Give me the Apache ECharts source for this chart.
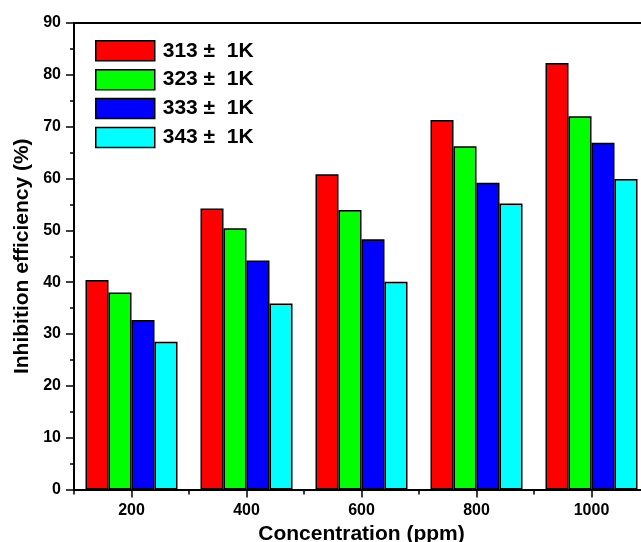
<!DOCTYPE html>
<html>
<head>
<meta charset="utf-8">
<script src="https://cdn.jsdelivr.net/npm/echarts@6/dist/echarts.min.js"></script>
<style>html,body{margin:0;padding:0;background:#fff;}#c{width:641px;height:542px;}</style>
</head>
<body>
<div id="c"></div>
<script>
var categories = ['200', '400', '600', '800', '1000'];
var seriesNames = ['313 \u00b1  1K', '323 \u00b1  1K', '333 \u00b1  1K', '343 \u00b1  1K'];
var s313 = [40.4, 54.2, 60.8, 71.3, 82.3];
var s323 = [38.0, 50.4, 53.9, 66.2, 72.0];
var s333 = [32.7, 44.2, 48.3, 59.2, 66.9];
var s343 = [28.5, 35.9, 40.1, 55.2, 59.9];
var colors = ['#FF0000', '#00FF00', '#0000FF', '#00FFFF'];
var FONT = 'Arial, "Liberation Sans", sans-serif';

var chart = echarts.init(document.getElementById('c'), null, {renderer: 'canvas'});
var allData = [s313, s323, s333, s343];
var series = allData.map(function (d, i) {
  return {
    name: seriesNames[i],
    type: 'bar',
    xAxisIndex: 0,
    data: d,
    barWidth: 23,
    barGap: '0%',
    itemStyle: {color: colors[i], borderColor: '#000', borderWidth: 1.5},
    emphasis: {disabled: true}
  };
});
chart.setOption({
  animation: false,
  backgroundColor: '#fff',
  grid: {left: 74, top: 23, width: 575, height: 466.5, containLabel: false, outerBoundsMode: 'none'},
  legend: {
    orient: 'vertical', left: 95, top: 40, padding: 0,
    itemWidth: 59, itemHeight: 20, itemGap: 7.4,
    icon: 'rect',
    data: seriesNames,
    textStyle: {fontFamily: FONT, fontWeight: 'bold', fontSize: 21, lineHeight: 20, color: '#000', padding: [0, 0, 0, 3]},
    itemStyle: {borderColor: '#000', borderWidth: 1.5}
  },
  xAxis: [{
    type: 'category', data: categories, position: 'bottom',
    name: 'Concentration (ppm)', nameLocation: 'middle', nameGap: 32,
    nameTextStyle: {fontFamily: FONT, fontWeight: 'bold', fontSize: 21, color: '#000'},
    axisLine: {lineStyle: {color: '#000', width: 2}},
    axisTick: {show: true, inside: false, alignWithLabel: true, length: 8, lineStyle: {color: '#000', width: 1.5}},
    axisLabel: {fontFamily: FONT, fontWeight: 'bold', fontSize: 16, color: '#000', margin: 13},
    splitLine: {show: false}
  }, {
    type: 'category', data: categories, position: 'top',
    axisLine: {show: true, lineStyle: {color: '#000', width: 2}},
    axisTick: {show: false}, axisLabel: {show: false}, splitLine: {show: false}
  }, {
    type: 'category', data: categories, position: 'bottom', offset: 0,
    axisLine: {show: false},
    axisTick: {show: true, inside: false, length: 5, lineStyle: {color: '#000', width: 1.5}},
    axisLabel: {show: false}, splitLine: {show: false}
  }],
  yAxis: [{
    type: 'value', min: 0, max: 90, interval: 10,
    name: 'Inhibition efficiency (%)', nameLocation: 'middle', nameGap: 40,
    nameTextStyle: {fontFamily: FONT, fontWeight: 'bold', fontSize: 21, color: '#000'},
    axisLine: {show: true, lineStyle: {color: '#000', width: 2}},
    axisTick: {show: true, inside: false, length: 8, lineStyle: {color: '#000', width: 1.5}},
    minorTick: {show: true, splitNumber: 2, length: 4, lineStyle: {color: '#000', width: 1.5}},
    axisLabel: {fontFamily: FONT, fontWeight: 'bold', fontSize: 16, color: '#000', margin: 13},
    splitLine: {show: false}
  }],
  series: series
});
</script>
</body>
</html>
